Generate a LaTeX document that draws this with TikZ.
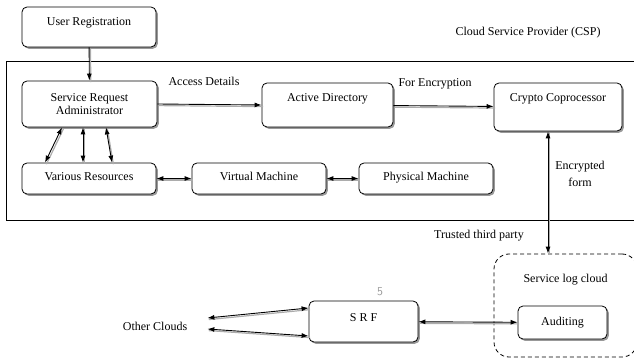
\documentclass[tikz,border=0pt]{standalone}
\usepackage{fontspec}
\setmainfont{Liberation Serif}
\usetikzlibrary{arrows.meta,shadows}
\tikzset{
  box/.style={draw,line width=0.8pt,rounded corners=5pt,fill=white,
    drop shadow={shadow xshift=1.8pt,shadow yshift=-1.8pt,fill=gray!80,opacity=1},
    align=center,text height=8pt,text depth=3pt,inner sep=2pt},
  cloudbox/.style={draw,line width=0.8pt,dash pattern=on 4pt off 3pt,rounded corners=15pt},
  link/.style={line width=0.9pt,-{Latex[length=7pt,width=5pt]},
    preaction={draw=gray!65,line width=1.2pt,-,transform canvas={shift={(1.4pt,-1.6pt)}}}},
  twoway/.style={link,{Latex[length=7pt,width=5pt]}-{Latex[length=7pt,width=5pt]}},
  lbl/.style={inner sep=1pt,align=center}
}
\begin{document}
\begin{tikzpicture}[x=1pt,y=-1pt,font=\fontsize{12}{13}\selectfont]
\useasboundingbox (0,0) rectangle (634,363);
\draw[line width=0.8pt] (640,61)--(6,61)--(6,220)--(640,220);
\node[lbl] (csp) at (528,33) {Cloud Service Provider (CSP)};
\node[box,minimum width=134pt,minimum height=40pt,text depth=10pt] (ur) at (89,27) {User Registration};
\node[box,minimum width=135pt,minimum height=46pt,text height=,text depth=] (sra) at (89.5,104) {Service Request\\Administrator};
\node[box,minimum width=131pt,minimum height=44pt,text depth=14pt] (ad) at (327.5,105) {Active Directory};
\node[box,minimum width=128pt,minimum height=48pt,text depth=18pt] (cc) at (558,107) {Crypto Coprocessor};
\node[box,minimum width=134pt,minimum height=31pt] (vr) at (89,178.5) {Various Resources};
\node[box,minimum width=134pt,minimum height=31pt] (vm) at (259,178.5) {Virtual Machine};
\node[box,minimum width=134pt,minimum height=31pt] (pm) at (426,178.5) {Physical Machine};
\node[cloudbox,minimum width=143pt,minimum height=103pt,text height=8pt,text depth=53pt] (slc) at (565.5,305.5) {Service log cloud};
\node[box,minimum width=89pt,minimum height=33pt] (aud) at (562.5,322.5) {Auditing};
\node[box,minimum width=109pt,minimum height=41pt,text depth=9pt] (srf) at (363.5,321.5) {S R F};
\node[lbl] (oc) at (155,326) {Other Clouds};
\node[lbl,text=gray!80,font=\sffamily\fontsize{12}{13}\selectfont] (num) at (380,292) {5};
\node[lbl] (acc) at (204,81) {Access Details};
\node[lbl] (enc) at (435,84) {For Encryption};
\node[lbl,font=\fontsize{12}{17}\selectfont] (ef) at (580,174) {Encrypted\\form};
\node[lbl] (ttp) at (479,236) {Trusted third party};
\draw[link] (ur)--(sra);
\draw[link] (sra.east)--(ad.west);
\draw[link] (ad)--(cc);
\draw[twoway] ([xshift=-27.5pt]sra.south)--([xshift=-44pt]vr.north);
\draw[twoway] ([xshift=-6.5pt]sra.south)--([xshift=-6pt]vr.north);
\draw[twoway] ([xshift=16.5pt]sra.south)--([xshift=23pt]vr.north);
\draw[twoway] (vr)--(vm);
\draw[twoway] (vm)--(pm);
\draw[twoway] ([xshift=-10pt]cc.south)--([xshift=-10pt]cc.south |- slc.north);
\draw[twoway] (srf)--(aud);
\draw[twoway] ([xshift=19pt,yshift=8pt]oc.east)--([yshift=13.5pt]srf.west);
\draw[twoway] ([xshift=19pt,yshift=-3pt]oc.east)--([yshift=-14.5pt]srf.west);
\end{tikzpicture}
\end{document}
